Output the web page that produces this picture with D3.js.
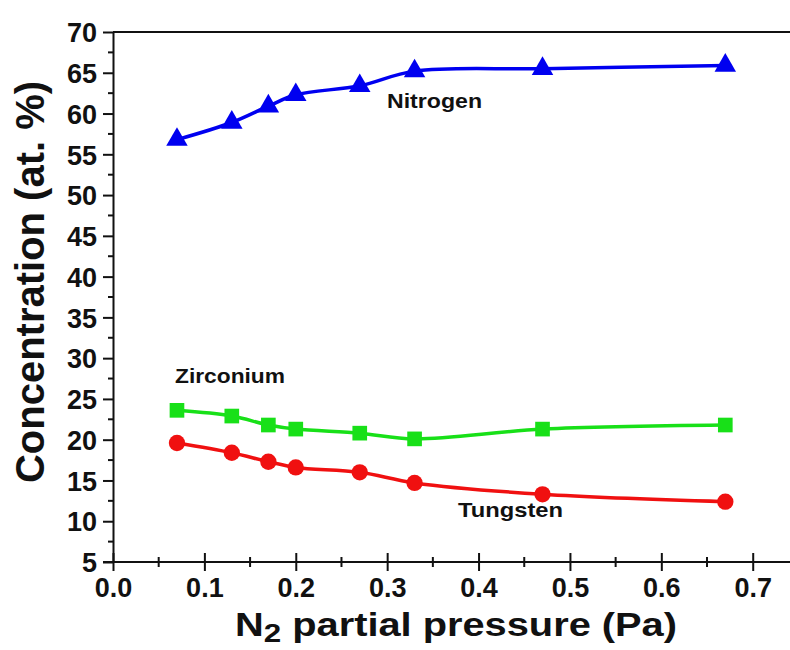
<!DOCTYPE html>
<html>
<head>
<meta charset="utf-8">
<script src="https://cdn.jsdelivr.net/npm/d3@7"></script>
<style>
  body { margin: 0; background: #fff; }
  svg { display: block; font-family: "Liberation Sans", Arial, sans-serif; font-weight: bold; }
</style>
</head>
<body>
<div id="chart"></div>
<script>
const pressure = [0.07, 0.13, 0.17, 0.2, 0.27, 0.33, 0.47, 0.67];
const nitrogen = [56.8, 58.9, 60.9, 62.3, 63.4, 65.2, 65.5, 65.9];
const zirconium = [23.6, 22.9, 21.8, 21.3, 20.8, 20.1, 21.3, 21.8];
const tungsten = [19.6, 18.4, 17.3, 16.6, 16.0, 14.7, 13.3, 12.4];

const yTicks = d3.range(5, 71, 5);
const yMinor = d3.range(7.5, 70, 5);
const xTicks = [0, 0.1, 0.2, 0.3, 0.4, 0.5, 0.6, 0.7];
const xMinor = [0.05, 0.15, 0.25, 0.35, 0.45, 0.55, 0.65];

const width = 790;
const height = 650;

const svg = d3.select("#chart")
  .append("svg")
  .attr("width", width)
  .attr("height", height);

const x = d3.scaleLinear().domain([0, 0.7408]).range([113, 790]);
const y = d3.scaleLinear().domain([5, 70]).range([562, 32]);

// top frame line
svg.append("line")
  .attr("x1", x(0)).attr("x2", width)
  .attr("y1", y(70)).attr("y2", y(70))
  .attr("stroke", "#111").attr("stroke-width", 2);

// y axis
const yAxis = svg.append("g")
  .attr("transform", `translate(${x(0)},0)`)
  .call(d3.axisLeft(y).tickValues(yTicks).tickSize(10).tickPadding(6).tickSizeOuter(0));
yAxis.select(".domain").attr("stroke", "#111").attr("stroke-width", 2);
yAxis.selectAll(".tick line").attr("stroke", "#111").attr("stroke-width", 2);
yAxis.selectAll(".tick text")
  .attr("font-size", 27).attr("font-weight", "bold").attr("fill", "#111")
  .attr("font-family", "Liberation Sans, Arial, sans-serif")
  .attr("dy", "0.36em");
yAxis.selectAll(".minor")
  .data(yMinor)
  .enter()
  .append("line")
  .attr("x1", -5).attr("x2", 0)
  .attr("y1", d => y(d)).attr("y2", d => y(d))
  .attr("stroke", "#111").attr("stroke-width", 2);

// x axis
const xAxis = svg.append("g")
  .attr("transform", `translate(0,${y(5)})`)
  .call(d3.axisBottom(x).tickValues(xTicks).tickSize(9).tickPadding(7).tickSizeOuter(0)
    .tickFormat(d3.format(".1f")));
xAxis.select(".domain").attr("stroke", "#111").attr("stroke-width", 2)
  .attr("d", `M${x(0) - 10},0H${width}`);
xAxis.selectAll(".tick line").attr("y1", -9).attr("stroke", "#111").attr("stroke-width", 2);
xAxis.selectAll(".tick text")
  .attr("font-size", 27).attr("font-weight", "bold").attr("fill", "#111")
  .attr("font-family", "Liberation Sans, Arial, sans-serif");
xAxis.selectAll(".minor")
  .data(xMinor)
  .enter()
  .append("line")
  .attr("x1", d => x(d)).attr("x2", d => x(d))
  .attr("y1", -5).attr("y2", 5)
  .attr("stroke", "#111").attr("stroke-width", 2);

// series
const series = [
  { name: "Nitrogen", values: nitrogen, color: "#0000f0", shape: d3.symbolTriangle, size: 200 },
  { name: "Zirconium", values: zirconium, color: "#18e018", shape: d3.symbolSquare, size: 215 },
  { name: "Tungsten", values: tungsten, color: "#f01010", shape: d3.symbolCircle, size: 210 }
];

const line = d3.line()
  .x((d, i) => x(pressure[i]))
  .y(d => y(d))
  .curve(d3.curveCatmullRom.alpha(0.5));

series.forEach(s => {
  svg.append("path")
    .datum(s.values)
    .attr("fill", "none")
    .attr("stroke", s.color)
    .attr("stroke-width", 3.5)
    .attr("d", line);

  svg.selectAll(".pt-" + s.name)
    .data(s.values)
    .enter()
    .append("path")
    .attr("d", d3.symbol().type(s.shape).size(s.size))
    .attr("transform", (d, i) => `translate(${x(pressure[i])},${y(d)})`)
    .attr("fill", s.color);
});

// series labels
svg.append("text").attr("x", 387).attr("y", 108).attr("font-size", 21).attr("fill", "#111")
  .attr("textLength", 95).attr("lengthAdjust", "spacingAndGlyphs").text("Nitrogen");
svg.append("text").attr("x", 175).attr("y", 383).attr("font-size", 21).attr("fill", "#111")
  .attr("textLength", 110).attr("lengthAdjust", "spacingAndGlyphs").text("Zirconium");
svg.append("text").attr("x", 458).attr("y", 517).attr("font-size", 21).attr("fill", "#111")
  .attr("textLength", 105).attr("lengthAdjust", "spacingAndGlyphs").text("Tungsten");

// axis titles
svg.append("text")
  .attr("transform", "translate(44,282) rotate(-90)")
  .attr("text-anchor", "middle")
  .attr("font-size", 40)
  .attr("fill", "#111")
  .text("Concentration (at. %)");

const xTitle = svg.append("text")
  .attr("x", 235).attr("y", 636)
  .attr("font-size", 33)
  .attr("fill", "#111")
  .attr("textLength", 442)
  .attr("lengthAdjust", "spacingAndGlyphs");
xTitle.append("tspan").text("N");
xTitle.append("tspan").attr("font-size", 26).attr("dy", 6).text("2");
xTitle.append("tspan").attr("dy", -6).text(" partial pressure (Pa)");
</script>
</body>
</html>
